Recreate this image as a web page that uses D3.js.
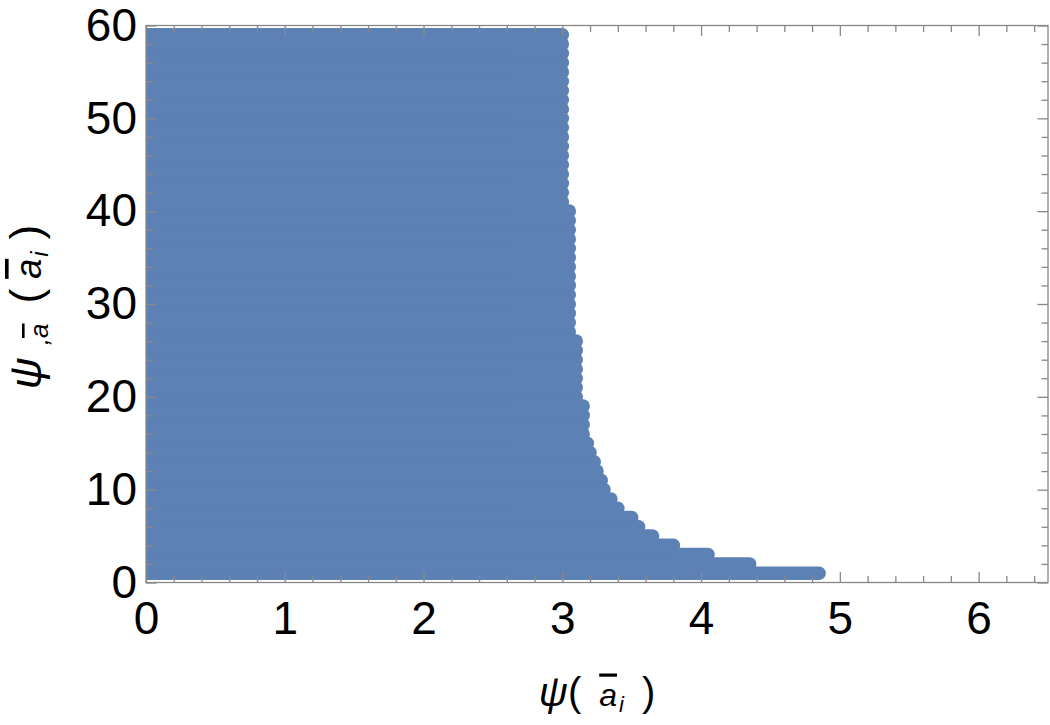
<!DOCTYPE html>
<html>
<head>
<meta charset="utf-8">
<script src="https://cdn.jsdelivr.net/npm/d3@7"></script>
<style>
    body { margin: 0; background: #fff; }
    text { font-family: "Liberation Sans", Arial, sans-serif; fill: #000; }
    .tick line { stroke: #888; stroke-width: 1.3; }
    .bar { text-decoration: overline; }
</style>
</head>
<body>
<div id="chart"></div>
<script>
//Datos: filas de psi-barra (enteros) y psi máximo alcanzado en cada fila
const rowLevels = [1, 2, 3, 4, 5, 6, 7, 8, 9, 10,
    11, 12, 13, 14, 15, 16, 17, 18, 19, 20,
    21, 22, 23, 24, 25, 26, 27, 28, 29, 30,
    31, 32, 33, 34, 35, 36, 37, 38, 39, 40,
    41, 42, 43, 44, 45, 46, 47, 48, 49, 50,
    51, 52, 53, 54, 55, 56, 57, 58, 59];
const rowMax = [4.85, 4.35, 4.05, 3.80, 3.65, 3.55, 3.50, 3.40, 3.35, 3.30,
    3.28, 3.25, 3.23, 3.20, 3.18, 3.15, 3.15, 3.15, 3.15, 3.10,
    3.10, 3.10, 3.10, 3.10, 3.10, 3.10, 3.05, 3.05, 3.05, 3.05,
    3.05, 3.05, 3.05, 3.05, 3.05, 3.05, 3.05, 3.05, 3.05, 3.05,
    3.00, 3.00, 3.00, 3.00, 3.00, 3.00, 3.00, 3.00, 3.00, 3.00,
    3.00, 3.00, 3.00, 3.00, 3.00, 3.00, 3.00, 3.00, 3.00];
const rowMin = 0;

//Ticks
const xMajor = [0, 1, 2, 3, 4, 5, 6];
const xMinor = [0.2, 0.4, 0.6, 0.8, 1.2, 1.4, 1.6, 1.8, 2.2, 2.4, 2.6, 2.8,
    3.2, 3.4, 3.6, 3.8, 4.2, 4.4, 4.6, 4.8, 5.2, 5.4, 5.6, 5.8, 6.2, 6.4];
const yMajor = [0, 10, 20, 30, 40, 50, 60];
const yMinor = [2, 4, 6, 8, 12, 14, 16, 18, 22, 24, 26, 28, 32, 34, 36, 38,
    42, 44, 46, 48, 52, 54, 56, 58];

const COLOR_POINTS = '#5e81b5',
    COLOR_FRAME = '#888';

let margin = {top: 25.5, right: 2, bottom: 142.5, left: 146},
    width = 1050 - margin.left - margin.right,
    height = 725 - margin.top - margin.bottom;

let svg = d3.select('#chart')
    .append('svg')
        .attr('width', 1050)
        .attr('height', 725)
    .append('g')
        .attr('transform', 'translate(' + margin.left + ',' + margin.top + ')');

let x = d3.scaleLinear()
    .domain([0, 6.5])
    .range([0, width]);

let y = d3.scaleLinear()
    .domain([0, 60])
    .range([height, 0]);

let r = 6.8;

//Puntos: cada fila se rellena desde psi = 0 hasta su máximo
svg.append('clipPath')
    .attr('id', 'plotClip')
    .append('rect')
    .attr('width', width)
    .attr('height', height);

let rows = rowLevels.map(function(d, i) { return {level: d, max: rowMax[i]}; });

svg.append('g')
    .attr('clip-path', 'url(#plotClip)')
    .selectAll('line')
    .data(rows)
    .enter()
    .append('line')
    .attr('x1', x(rowMin))
    .attr('x2', function(d) { return x(d.max); })
    .attr('y1', function(d) { return y(d.level); })
    .attr('y2', function(d) { return y(d.level); })
    .attr('stroke', COLOR_POINTS)
    .attr('stroke-width', 2 * r)
    .attr('stroke-linecap', 'round');

//Ejes (ticks hacia dentro en los cuatro lados)
function cleanAxis(g) {
    g.select('.domain').remove();
    g.selectAll('.tick text').attr('font-size', 46);
}

svg.append('g')
    .attr('transform', 'translate(0,' + height + ')')
    .call(d3.axisBottom(x).tickValues(xMajor).tickSize(-10.5).tickPadding(19).tickFormat(d3.format('d')))
    .call(cleanAxis);
svg.append('g')
    .attr('transform', 'translate(0,' + height + ')')
    .call(d3.axisBottom(x).tickValues(xMinor).tickSize(-6.5).tickFormat(''))
    .call(cleanAxis);
svg.append('g')
    .call(d3.axisTop(x).tickValues(xMajor).tickSize(-10.5).tickFormat(''))
    .call(cleanAxis);
svg.append('g')
    .call(d3.axisTop(x).tickValues(xMinor).tickSize(-6.5).tickFormat(''))
    .call(cleanAxis);

svg.append('g')
    .call(d3.axisLeft(y).tickValues(yMajor).tickSize(-10.5).tickPadding(9).tickFormat(d3.format('d')))
    .call(cleanAxis);
svg.append('g')
    .call(d3.axisLeft(y).tickValues(yMinor).tickSize(-6.5).tickFormat(''))
    .call(cleanAxis);
svg.append('g')
    .attr('transform', 'translate(' + width + ',0)')
    .call(d3.axisRight(y).tickValues(yMajor).tickSize(-10.5).tickFormat(''))
    .call(cleanAxis);
svg.append('g')
    .attr('transform', 'translate(' + width + ',0)')
    .call(d3.axisRight(y).tickValues(yMinor).tickSize(-6.5).tickFormat(''))
    .call(cleanAxis);

//Marco
svg.append('rect')
    .attr('width', width)
    .attr('height', height)
    .attr('fill', 'none')
    .attr('stroke', COLOR_FRAME)
    .attr('stroke-width', 1.3);

//Etiqueta eje X: ψ( ā_i )
let xLabel = svg.append('text')
    .attr('x', width / 2)
    .attr('y', height + 123)
    .attr('text-anchor', 'middle')
    .attr('font-size', 40)
    .attr('font-style', 'italic');
xLabel.append('tspan').text('ψ');
xLabel.append('tspan').attr('font-style', 'normal').text('(');
xLabel.append('tspan').attr('class', 'bar').attr('dx', 18).attr('font-size', 32).text('a');
xLabel.append('tspan').attr('font-size', 22).attr('dx', 2).attr('dy', 6).text('i');
xLabel.append('tspan').attr('font-style', 'normal').attr('dx', 18).attr('dy', -6).text(')');

//Etiqueta eje Y: ψ,ā ( ā_i )
let yLabel = svg.append('text')
    .attr('transform', 'translate(' + (41 - margin.left) + ',' + (307 - margin.top) + ') rotate(-90)')
    .attr('text-anchor', 'middle')
    .attr('font-size', 44)
    .attr('font-style', 'italic');
yLabel.append('tspan').text('ψ');
yLabel.append('tspan').attr('font-size', 26).attr('dx', 12).attr('dy', 7).text(',');
yLabel.append('tspan').attr('class', 'bar').attr('font-size', 26).text('a');
yLabel.append('tspan').attr('font-style', 'normal').attr('dx', 20).attr('dy', -7).text('(');
yLabel.append('tspan').attr('class', 'bar').attr('dx', 10).attr('font-size', 36).text('a');
yLabel.append('tspan').attr('font-size', 24).attr('dx', 2).attr('dy', 7).text('i');
yLabel.append('tspan').attr('font-style', 'normal').attr('dx', 12).attr('dy', -7).text(')');
</script>
</body>
</html>
